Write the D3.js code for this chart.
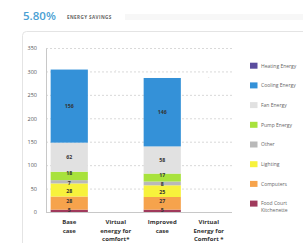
<!DOCTYPE html>
<html><head><meta charset="utf-8">
<script src="https://cdn.jsdelivr.net/npm/d3@7"></script>
<style>body{margin:0;background:#fff;}svg{display:block;font-family:"Open Sans",Arial,sans-serif;}</style>
</head><body>
<svg id="c" width="303" height="243"></svg>
<script>
const categories = [["Base","case"],["Virtual","energy for","comfort*"],["Improved","case"],["Virtual","Energy for","Comfort *"]];
const seriesNames = ["Food Court Kitchenette","Computers","Lighting","Other","Pump Energy","Fan Energy","Cooling Energy","Heating Energy"];
const foodCourt = [5,0,5,0];
const computers = [28,0,27,0];
const lighting = [28,0,25,0];
const other = [7,0,8,0];
const pump = [18,0,17,0];
const fan = [62,0,58,0];
const cooling = [156,0,146,0];
const heating = [0,0,0,0];
const yTicks = [0,50,100,150,200,250,300,350];
const legendOrder = ["Heating Energy","Cooling Energy","Fan Energy","Pump Energy","Other","Lighting","Computers","Food Court Kitchenette"];
const colors = {"Heating Energy":"#5a4d9e","Cooling Energy":"#3491d8","Fan Energy":"#e1e1e1","Pump Energy":"#a8e23c","Other":"#b9b9b9","Lighting":"#f7f23c","Computers":"#f6a34c","Food Court Kitchenette":"#a03a5c"};

const values = [foodCourt,computers,lighting,other,pump,fan,cooling,heating];
const rows = categories.map((c,i)=>{const r={key:i}; seriesNames.forEach((s,j)=>r[s]=values[j][i]); return r;});
const stack = d3.stack().keys(seriesNames)(rows);

const svg = d3.select("#c");
// title
svg.append("text").attr("x",23).attr("y",20).attr("font-size",11.5).attr("font-weight",600).attr("fill","#4a9fd3").text("5.80%");
svg.append("text").attr("x",67).attr("y",18.5).attr("font-size",4.6).attr("font-weight",700).attr("letter-spacing",0.4).attr("fill","#666").text("ENERGY SAVINGS");
svg.append("rect").attr("x",125).attr("y",14).attr("width",180).attr("height",6).attr("fill","#f7f7f7");
// panel
svg.append("rect").attr("x",22.5).attr("y",31.5).attr("width",300).attr("height",230).attr("rx",4).attr("fill","#fff").attr("stroke","#e4e4e4");

const x = d3.scaleBand().domain(d3.range(categories.length)).range([46,232]).paddingInner(0.2).paddingOuter(0.1);
const y = d3.scaleLinear().domain([0,350]).range([212,48]);

// grid
svg.append("g").selectAll("line").data(yTicks.filter(t=>t>0)).join("line")
  .attr("x1",46).attr("x2",232).attr("y1",d=>y(d)+0.5).attr("y2",d=>y(d)+0.5)
  .attr("stroke","#cfcfcf").attr("stroke-dasharray","2,2").attr("stroke-width",0.8);

// y axis
const ya = svg.append("g").attr("transform","translate(46,0)").call(d3.axisLeft(y).tickValues(yTicks).tickSize(0).tickPadding(9));
ya.select(".domain").attr("stroke","#c8c8c8");
ya.selectAll("text").attr("font-size",5.5).attr("fill","#555").attr("font-family","Open Sans, Arial, sans-serif");
svg.append("line").attr("x1",46).attr("x2",232).attr("y1",212.5).attr("y2",212.5).attr("stroke","#c8c8c8");

// bars
const g = svg.append("g");
stack.forEach(layer=>{
  g.append("g").attr("fill",colors[layer.key]).selectAll("rect").data(layer).join("rect")
    .attr("x",(d,i)=>x(i)).attr("width",x.bandwidth())
    .attr("y",d=>y(d[1])).attr("height",d=>y(d[0])-y(d[1]));
});
// labels
const labelShift = {"Pump Energy":-0.6,"Other":2.8,"Lighting":2.6,"Computers":0,"Food Court Kitchenette":1.2};
stack.forEach(layer=>{
  g.append("g").selectAll("text").data(layer.map((d,i)=>({d,i})).filter(o=>o.d[1]-o.d[0]>0)).join("text")
    .attr("x",o=>x(o.i)+x.bandwidth()/2).attr("y",o=>{
      const c=(y(o.d[0])+y(o.d[1]))/2; const s=labelShift[layer.key];
      return c + (s===undefined?1.9:s);})
    .attr("text-anchor","middle").attr("font-size",5.2).attr("font-weight",700).attr("fill","#333")
    .text(o=>o.d[1]-o.d[0]);
});
// tiny marks above virtual categories
svg.append("g").selectAll("text").data([1,3]).join("text")
  .attr("x",i=>x(i)+x.bandwidth()/2).attr("y",(i)=>i===1?y(300)+1:y(287)+1)
  .attr("text-anchor","middle").attr("font-size",5).attr("fill","#aaa").text("·");

// x labels
const xl = svg.append("g");
categories.forEach((lines,i)=>{
  const t = xl.append("text").attr("text-anchor","middle").attr("font-size",6).attr("font-weight",700).attr("fill","#333");
  lines.forEach((l,k)=>t.append("tspan").attr("x",x(i)+x.bandwidth()/2).attr("y",224+k*8.5).text(l));
});

// legend
const lg = svg.append("g");
legendOrder.forEach((s,i)=>{
  const cy = 65.7 + i*19.7;
  lg.append("rect").attr("x",250).attr("y",cy-3).attr("width",7.5).attr("height",6).attr("fill",colors[s]);
  const t = lg.append("text").attr("font-size",5).attr("fill","#666");
  if(s==="Food Court Kitchenette"){
    t.append("tspan").attr("x",261).attr("y",cy+1.8).text("Food Court");
    t.append("tspan").attr("x",261).attr("y",cy+8.8).text("Kitchenette");
  } else t.append("tspan").attr("x",261).attr("y",cy+1.8).text(s);
});
</script>
</body></html>
